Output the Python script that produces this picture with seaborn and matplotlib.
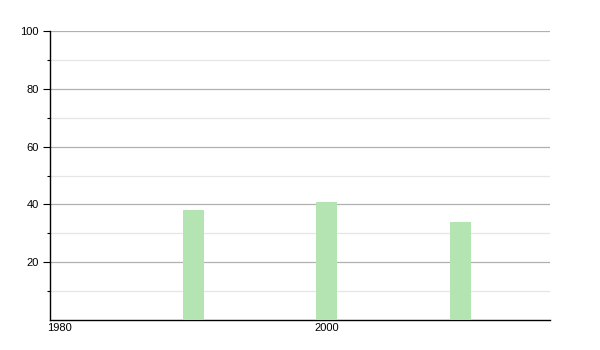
import matplotlib
matplotlib.use("Agg")
import matplotlib.pyplot as plt
import seaborn as sns
import pandas as pd
from matplotlib.ticker import FixedLocator

years = [1990, 2000, 2010]
values = [38, 41, 34]
ytick_vals = [20, 40, 60, 80, 100]
xtick_vals = [1980, 2000]

sns.set_style("white")
plt.rcParams['font.family'] = ['Liberation Sans', 'DejaVu Sans']

df = pd.DataFrame({"year": years, "value": values})

fig = plt.figure(figsize=(6, 3.5), dpi=100)
ax = fig.add_axes([50/600, 30/350, 500/600, 289/350])

sns.barplot(data=df, x="year", y="value", native_scale=True, width=0.157,
            color="#b3e4b1", saturation=1, linewidth=0, ax=ax, zorder=3)

ax.set_xlim(1979.3, 2016.7)
ax.set_ylim(0, 100)
ax.yaxis.set_major_locator(FixedLocator(ytick_vals))
ax.yaxis.set_minor_locator(FixedLocator([10, 30, 50, 70, 90]))
ax.xaxis.set_major_locator(FixedLocator(xtick_vals))
ax.set_xticklabels([str(v) for v in xtick_vals])
ax.grid(True, which="major", axis="y", color="#b0b0b0", linewidth=0.9, zorder=0)
ax.grid(True, which="minor", axis="y", color="#e6e6e6", linewidth=0.9, zorder=0)
ax.set_axisbelow(True)
ax.set_xlabel("")
ax.set_ylabel("")

for s in ["top", "right"]:
    ax.spines[s].set_visible(False)
for s in ["left", "bottom"]:
    ax.spines[s].set_color("black")
    ax.spines[s].set_linewidth(1.0)

ax.tick_params(axis="y", which="major", left=True, length=5, width=0.8, color="black",
               labelsize=8, labelcolor="black", pad=3)
ax.tick_params(axis="y", which="minor", left=True, length=2.5, width=0.8, color="black")
ax.tick_params(axis="x", which="major", bottom=False, length=0, labelsize=8,
               labelcolor="black", pad=2)

fig.savefig("out.png", dpi=100)
